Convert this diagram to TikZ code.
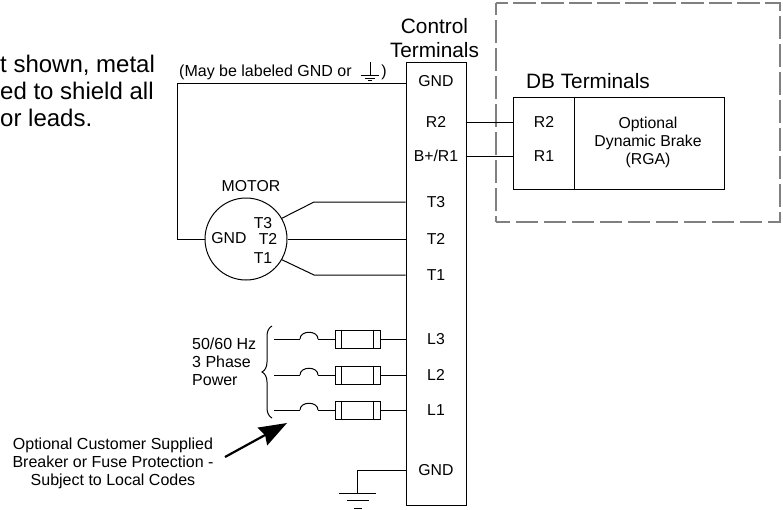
\documentclass[tikz,border=0pt]{standalone}
\usepackage{fontspec}
\setmainfont{Liberation Sans}
\usetikzlibrary{decorations.pathreplacing,arrows.meta}

\begin{document}
\begin{tikzpicture}[
    x=1pt,y=-1pt,
    wire/.style={%
      draw,
      line width=1pt,
    },
  ]

\tikzstyle{lbl} = [inner sep=0pt, font=\fontsize{15.8}{18}\selectfont, align=center]
\tikzstyle{big} = [inner sep=0pt, font=\fontsize{20.8}{24}\selectfont, align=center]
\tikzstyle{note} = [inner sep=0pt, font=\fontsize{16}{18}\selectfont, align=center]
\tikzstyle{fuse} = [rectangle, draw, line width=1pt, minimum width=45pt, minimum height=18pt, inner sep=0pt]

    \useasboundingbox (0,0) rectangle (783,509);

    % dashed option area
    \draw [gray, line width=1.8pt, dash pattern=on 22.5pt off 5.5pt, dash phase=11pt] (496,3) -- (780,3) -- (780,222) -- (496,222);
    \draw [gray, line width=1.8pt, dash pattern=on 22.5pt off 5.5pt, dash phase=11pt] (496,3) -- (496,222);

    % terminal strip
    \node [draw, line width=1pt, minimum width=60pt, minimum height=443pt, inner sep=0pt] (ctl) at (436,283.5) {};
    \node [big] (ctlName) at (434.5,38) {Control\\Terminals};
    \node [lbl] (tGNDa) at (436,81) {GND};
    \node [lbl] (tR2) at (436,122) {R2};
    \node [lbl] (tR1) at (436,156) {B+/R1};
    \node [lbl] (tT3) at (436,202) {T3};
    \node [lbl] (tT2) at (436,239) {T2};
    \node [lbl] (tT1) at (436,275) {T1};
    \node [lbl] (tL3) at (436,339) {L3};
    \node [lbl] (tL2) at (436,375) {L2};
    \node [lbl] (tL1) at (436,410) {L1};
    \node [lbl] (tGNDb) at (436,470) {GND};

    % DB unit
    \node [draw, line width=1pt, minimum width=211pt, minimum height=92pt, inner sep=0pt] (db) at (618.5,143) {};
    \node [big] (dbName) at (588,81) {DB Terminals};
    \node [lbl] (dR2) at (544,122) {R2};
    \node [lbl] (dR1) at (544,156) {R1};
    \node [lbl] (rga) at (648,142) {Optional\\Dynamic Brake\\(RGA)};
    \draw [wire] (574,0 |- db.north) -- (574,0 |- db.south);
    \draw [wire] (tR2 -| ctl.east) -- (tR2 -| db.west);
    \draw [wire] (tR1 -| ctl.east) -- (tR1 -| db.west);

    % motor
    \node [circle, draw, line width=1pt, minimum size=82pt, inner sep=0pt] (motor) at (246,239) {};
    \node [lbl] (motorName) at (251,186) {MOTOR};
    \node [lbl] (mGND) at (229,238) {GND};
    \node [lbl] (mT3) at (263,223) {T3};
    \node [lbl] (mT2) at (268,239) {T2};
    \node [lbl] (mT1) at (263,258) {T1};
    \coordinate (gndIn) at (406,83);
    \coordinate (gndBend) at (177,83);
    \coordinate (bend3) at (314,202);
    \coordinate (bend1) at (314,275);
    \draw [wire] (gndIn) -- (gndBend) -- (gndBend |- motor.west) -- (motor.west);
    \draw [wire] (motor.30) -- (bend3) -- (tT3 -| ctl.west);
    \draw [wire] (motor.east) -- (tT2 -| ctl.west);
    \draw [wire] (motor.-30) -- (bend1) -- (tT1 -| ctl.west);

    % note on the ground label
    \node [note, anchor=west] (mayLbl) at (179,72) {(May be labeled GND or};
    \node [note] (mayEnd) at (384,72) {)};
    \draw [line width=0.7pt] (370,62) -- (370,75) (361,75) -- (379,75) (365,78) -- (375,78) (368,80.5) -- (372,80.5);

    % supply lines
    \foreach \n in {L3,L2,L1} {
      \coordinate (lead\n) at (274,0 |- t\n);
      \coordinate (brkA\n) at (300,0 |- t\n);
      \coordinate (brkB\n) at (318,0 |- t\n);
      \node [fuse] (fuse\n) at (357.5,0 |- t\n) {};
      \draw [wire] (lead\n) -- (brkA\n);
      \draw [wire] (brkA\n) .. controls ([yshift=9pt]brkA\n) and ([yshift=9pt]brkB\n) .. (brkB\n);
      \draw [wire] (brkB\n) -- (fuse\n.west);
      \draw [wire] (fuse\n.east) -- (t\n -| ctl.west);
      \draw [wire] ([xshift=7pt]fuse\n.north west) -- ([xshift=7pt]fuse\n.south west);
      \draw [wire] ([xshift=-7pt]fuse\n.north east) -- ([xshift=-7pt]fuse\n.south east);
    }
    \coordinate (braceB) at (272,418);
    \coordinate (braceT) at (272,326);
    \draw [wire, decorate, decoration={brace, amplitude=10pt}] (braceB) -- (braceT);
    \node [note, anchor=west, align=left] (power) at (192,362) {50/60 Hz\\3 Phase\\Power};

    % bottom ground
    \coordinate (gndDrop) at (357,493);
    \draw [wire] (tGNDb -| ctl.west) -- (tGNDb -| gndDrop) -- (gndDrop);
    \draw [wire] (339,493) -- (376,493) (347,500.5) -- (369,500.5) (354,508) -- (362,508);

    % protection note
    \node [note] (prot) at (113,463) {Optional Customer Supplied\\Breaker or Fuse Protection -\\Subject to Local Codes};
    \coordinate (protTip) at (287,423);
    \coordinate (protTail) at (225,457);
    \draw [line width=2.2pt, -{Stealth[length=28pt,width=20pt,inset=3pt]}] (protTail) -- (protTip);

    % cropped note
    \node [inner sep=0pt, anchor=west, align=left, font=\fontsize{24}{27}\selectfont] (shieldNote) at (0,91) {t shown, metal\\ed to shield all\\or leads.};
\end{tikzpicture}
\end{document}
